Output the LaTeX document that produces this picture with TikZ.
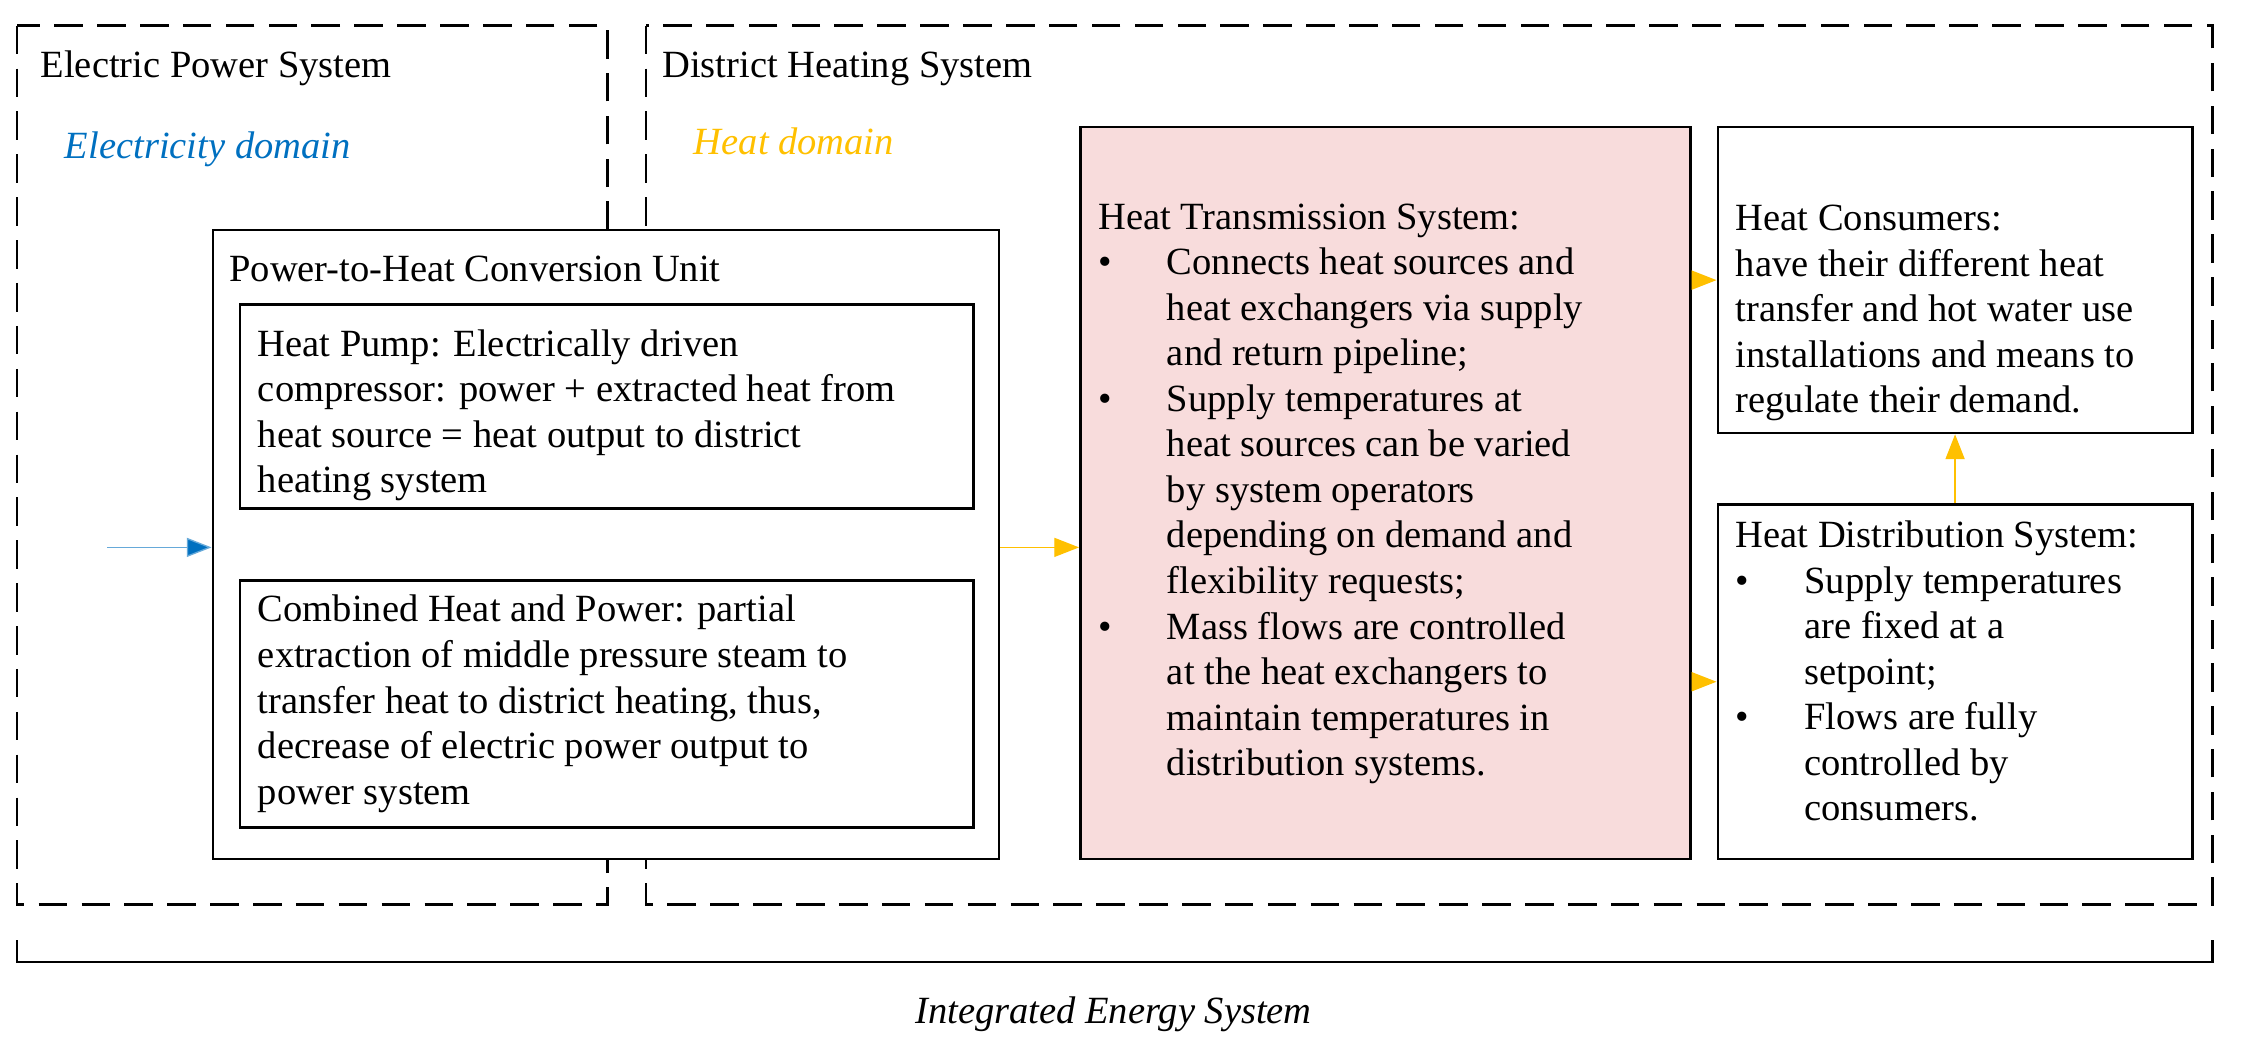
\documentclass[tikz,border=0pt]{standalone}
\usetikzlibrary{arrows.meta}
\usepackage{fontspec}
\setmainfont{Liberation Serif}
\definecolor{eblue}{HTML}{0070C0}
\definecolor{hyel}{HTML}{FFC000}
\definecolor{pink}{HTML}{F8DCDC}
\newcommand{\bl}[1]{\makebox[7.2mm][l]{\textbullet}#1}
\newcommand{\ct}[1]{\hspace*{7.2mm}#1}
\begin{document}
\begin{tikzpicture}[x=0.15mm,y=-0.15mm,
  box/.style={draw,line width=0.8pt},
  dbox/.style={draw,line width=0.8pt,dash pattern=on 3mm off 1.5mm},
  txt/.style={anchor=base west,inner sep=0,align=left,font=\fontsize{11.5}{13.6}\selectfont},
  mtxt/.style={anchor=north west,inner sep=0,align=left,font=\fontsize{11.5}{13.6}\selectfont},
  yarr/.style={draw=hyel,line width=0.4pt,-{Triangle[length=2.6mm,width=2mm,fill=hyel]}}]
\useasboundingbox (0,0) rectangle (1568,736);
\draw[dbox] (12,18) rectangle (425,633);
\draw[dbox] (452,18) rectangle (1548,633);
\node[txt] (eps) at (28,54) {Electric Power System};
\node[txt] (dhs) at (463,54) {District Heating System};
\node[txt,text=eblue,font=\fontsize{11.5}{13.6}\selectfont\itshape] (ed) at (45,111) {Electricity domain};
\node[txt,text=hyel,font=\fontsize{11.5}{13.6}\selectfont\itshape] (hd) at (485,108) {Heat domain};
\node[box,fill=white,minimum width=550*0.15mm,minimum height=440*0.15mm,anchor=north west] (p2h) at (148,160) {};
\node[txt] (p2ht) at (160,197) {Power-to-Heat Conversion Unit};
\node[box,minimum width=513*0.15mm,minimum height=143*0.15mm,anchor=north west] (hp) at (167,212) {};
\node[mtxt] at (180,230) {Heat Pump: Electrically driven\\compressor: power + extracted heat from\\heat source = heat output to district\\heating system};
\node[box,minimum width=513*0.15mm,minimum height=173*0.15mm,anchor=north west] (chp) at (167,405) {};
\node[mtxt] at (180,416) {Combined Heat and Power: partial\\extraction of middle pressure steam to\\transfer heat to district heating, thus,\\decrease of electric power output to\\power system};
\node[box,fill=pink,minimum width=427*0.15mm,minimum height=512*0.15mm,anchor=north west] (hts) at (755,88) {};
\node[mtxt] at (768,142) {Heat Transmission System:\\\bl{Connects heat sources and}\\\ct{heat exchangers via supply}\\\ct{and return pipeline;}\\\bl{Supply temperatures at}\\\ct{heat sources can be varied}\\\ct{by system operators}\\\ct{depending on demand and}\\\ct{flexibility requests;}\\\bl{Mass flows are controlled}\\\ct{at the heat exchangers to}\\\ct{maintain temperatures in}\\\ct{distribution systems.}};
\node[box,minimum width=332*0.15mm,minimum height=214*0.15mm,anchor=north west] (hc) at (1201,88) {};
\node[mtxt] at (1214,143) {Heat Consumers:\\have their different heat\\transfer and hot water use\\installations and means to\\regulate their demand.};
\node[box,minimum width=332*0.15mm,minimum height=248*0.15mm,anchor=north west] (hds) at (1201,352) {};
\node[mtxt] at (1214,364) {Heat Distribution System:\\\bl{Supply temperatures}\\\ct{are fixed at a}\\\ct{setpoint;}\\\bl{Flows are fully}\\\ct{controlled by}\\\ct{consumers.}};
\coordinate (bs) at (75,383);
\draw[draw=eblue!60,line width=0.4pt,-{Triangle[length=2.6mm,width=2mm,fill=eblue]}] (bs) -- (p2h.west|-bs);
\draw[yarr] (p2h.east|-bs) -- (hts.west|-bs);
\draw[yarr] (hts.east|-0,196) -- (hc.west|-0,196);
\draw[yarr] (hts.east|-0,477) -- (hds.west|-0,477);
\draw[yarr] (hds.north) -- (hc.south);
\draw[line width=0.8pt] (12,658) -- (12,673) -- (1548,673) -- (1548,658);
\node[txt,font=\fontsize{11.5}{13.6}\selectfont\itshape] (ies) at (640,716) {Integrated Energy System};
\end{tikzpicture}
\end{document}
